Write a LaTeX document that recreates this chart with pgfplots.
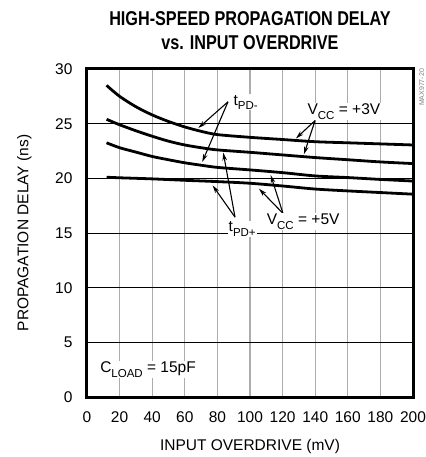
\documentclass[border=0pt]{standalone}
\usepackage{fontspec}
\setmainfont{Liberation Sans}
\newfontfamily\titlefont[FakeStretch=0.81]{Liberation Sans}
\usepackage{pgfplots}
\pgfplotsset{compat=1.18}
\usetikzlibrary{arrows.meta,calc}

% 1pt here = 1px of the reference
\newcommand{\lbl}{\fontsize{15.5}{18}\selectfont}
\newcommand{\sub}[1]{\raisebox{-0.28em}{\fontsize{11.5}{11.5}\selectfont #1}}

\begin{document}
\begin{tikzpicture}
\begin{axis}[
  name=ax,
  width=326pt, height=328pt,
  scale only axis,
  xmin=0, xmax=200, ymin=0, ymax=30,
  xtick={0,20,...,200},
  ytick={0,5,...,30},
  major tick length=0pt,
  xmajorgrids, ymajorgrids,
  x grid style={gray!65, line width=1.3pt},
  y grid style={black, line width=0.8pt},
  axis line style={line width=3pt},
  tick label style={font=\lbl},
  /pgf/number format/assume math mode=true,
  xticklabel style={yshift=-11pt},
  yticklabel style={xshift=-11pt},
  label style={font=\lbl},
  xlabel={INPUT OVERDRIVE (mV)},
  xlabel style={at={(axis description cs:0.5,-0.1616)}, anchor=base},
  ylabel={PROPAGATION DELAY (ns)},
  ylabel style={at={(axis description cs:-0.18,0.5)}, anchor=base},
  cycle list={{black}},
  every axis plot/.append style={line width=2.8pt, smooth, no marks},
]
% VCC = +3V, tPD-
\addplot coordinates {(12,28.5) (20,27.5) (30,26.55) (40,25.8) (50,25.2) (60,24.7) (70,24.3) (80,24.0) (100,23.75) (120,23.55) (140,23.35) (160,23.25) (180,23.15) (200,23.05)};
% VCC = +3V, tPD+
\addplot coordinates {(12,25.4) (20,24.9) (30,24.35) (40,23.85) (50,23.4) (60,23.05) (70,22.8) (80,22.6) (100,22.38) (120,22.14) (140,21.9) (160,21.7) (180,21.5) (200,21.35)};
% VCC = +5V, tPD-
\addplot coordinates {(12,23.25) (20,22.8) (30,22.4) (40,22.0) (50,21.7) (60,21.42) (70,21.2) (80,21.0) (100,20.77) (120,20.52) (140,20.22) (160,20.07) (180,19.9) (200,19.75)};
% VCC = +5V, tPD+
\addplot coordinates {(12,20.1) (20,20.05) (40,19.95) (60,19.82) (80,19.7) (100,19.55) (120,19.3) (140,19.02) (160,18.85) (180,18.7) (200,18.55)};

% annotations
\begin{scope}[line width=1.1pt, -{Stealth[length=8pt,width=4.5pt]}]
  \draw (axis cs:86.5,27.0) -- (axis cs:68.3,24.6);
  \draw (axis cs:86.5,27.0) -- (axis cs:70.7,21.5);
  \draw (axis cs:90.8,16.45) -- (axis cs:83.6,22.35);
  \draw (axis cs:90.8,16.45) -- (axis cs:77.1,19.35);
  \draw (axis cs:139.9,25.28) -- (axis cs:128.2,23.65);
  \draw (axis cs:139.9,25.28) -- (axis cs:133.1,22.2);
  \draw (axis cs:120.2,16.8) -- (axis cs:112.7,20.3);
  \draw (axis cs:120.2,16.8) -- (axis cs:105.5,19.05);
\end{scope}
\begin{scope}[every node/.style={font=\lbl, fill=white, inner sep=1pt, anchor=base west}]
  \node at (axis cs:89.2,26.7) {t\sub{PD-}};
  \node at (axis cs:86.2,15.1) {t\sub{PD+}};
  \node at (axis cs:134.6,25.8) {V\sub{CC} = +3V};
  \node at (axis cs:109.6,15.74) {V\sub{CC} = +5V};
  \node at (axis cs:7.4,2.22) {C\sub{LOAD} = 15pF};
\end{scope}
\end{axis}

% title
\node[font=\titlefont\bfseries\fontsize{20}{24}\selectfont, anchor=base] at ($(ax.north)+(0,43pt)$) {HIGH-SPEED PROPAGATION DELAY};
\node[font=\titlefont\bfseries\fontsize{20}{24}\selectfont, anchor=base] at ($(ax.north)+(0,19pt)$) {vs. INPUT OVERDRIVE};
% part number tag
\node[font=\fontsize{7}{8}\selectfont, text=gray, rotate=90, inner sep=0pt] at ($(ax.north east)+(8.7pt,-18.5pt)$) {MAX977-20};

\pgfresetboundingbox
\path ($(ax.south west)+(-87pt,-60pt)$) rectangle ($(ax.north east)+(12pt,69pt)$);
\end{tikzpicture}
\end{document}
